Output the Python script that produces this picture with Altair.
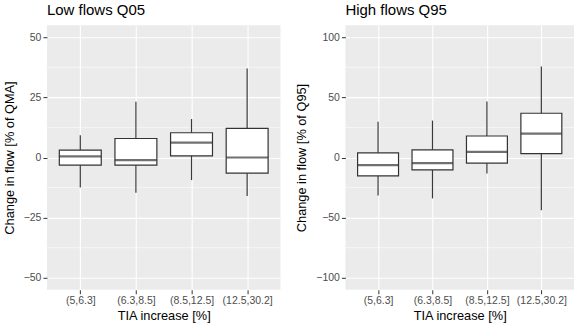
import altair as alt
import pandas as pd

categories = ["(5,6.3]", "(6.3,8.5]", "(8.5,12.5]", "(12.5,30.2]"]

low_lower = [-12.5, -14.7, -9.4, -16.0]
low_q1 = [-3.2, -3.2, 0.7, -6.5]
low_median = [0.5, -1.1, 6.2, 0.0]
low_q3 = [3.1, 7.9, 10.3, 12.1]
low_upper = [9.3, 23.2, 16.0, 37.0]

high_lower = [-31.5, -34.0, -13.4, -43.8]
high_q1 = [-15.3, -10.3, -4.7, 3.3]
high_median = [-6.4, -4.7, 4.7, 19.8]
high_q3 = [3.9, 6.4, 17.9, 36.8]
high_upper = [29.8, 30.7, 46.6, 75.6]

low_major = [-50, -25, 0, 25, 50]
low_minor = [-37.5, -12.5, 12.5, 37.5]
high_major = [-100, -50, 0, 50, 100]
high_minor = [-75, -25, 25, 75]

FONT = "Liberation Sans"


def panel(title, ytitle, lower, q1, med, q3, upper, major, minor, domain, w, boxw):
    df = pd.DataFrame({"cat": categories, "lower": lower, "q1": q1,
                       "median": med, "q3": q3, "upper": upper})
    xenc = alt.X("cat:N", sort=categories, title="TIA increase [%]",
                 scale=alt.Scale(type="point", padding=0.6),
                 axis=alt.Axis(labelAngle=0, grid=True, gridColor="white",
                               gridWidth=1.1, titlePadding=3))
    yscale = alt.Scale(domain=domain, nice=False, zero=False)
    yaxis = alt.Axis(values=major, grid=True, gridColor="white", gridWidth=1.1,
                     titlePadding=7)
    base = alt.Chart(df)
    minor_df = pd.DataFrame({"v": minor})
    minor_rules = alt.Chart(minor_df).mark_rule(color="white", strokeWidth=0.55).encode(
        y=alt.Y("v:Q", scale=yscale, title=ytitle, axis=yaxis))
    whisk = base.mark_rule(color="#3a3a3a", strokeWidth=1.2).encode(
        x=xenc,
        y=alt.Y("lower:Q", scale=yscale, title=ytitle, axis=yaxis),
        y2="upper:Q")
    box = base.mark_bar(size=boxw, fill="white", stroke="#333333",
                        strokeWidth=1.2).encode(x=xenc, y="q1:Q", y2="q3:Q")
    medt = base.mark_tick(size=boxw, thickness=2.2, color="#333333").encode(
        x=xenc, y="median:Q")
    return alt.layer(minor_rules, whisk, box, medt).properties(
        width=w, height=265,
        title=alt.TitleParams(title, anchor="start", frame="group", fontSize=15,
                              font=FONT, fontWeight="normal", color="black",
                              offset=7))


left = panel("Low flows Q05", "Change in flow [% of QMA]",
             low_lower, low_q1, low_median, low_q3, low_upper,
             low_major, low_minor, [-55, 55], 234, 42)
right = panel("High flows Q95", "Change in flow [% of Q95]",
              high_lower, high_q1, high_median, high_q3, high_upper,
              high_major, high_minor, [-110, 110], 229, 41)

chart = alt.hconcat(left, right, spacing=14).properties(
    padding={"left": 3, "top": 3, "right": 5, "bottom": 2},
    background="white"
).configure_view(fill="#EBEBEB", stroke=None).configure_axis(
    domain=False, tickColor="#333333", tickSize=4, tickWidth=1,
    labelColor="#4D4D4D", labelFontSize=10.5, labelFont=FONT,
    titleFont=FONT, titleFontSize=12.8, titleFontWeight="normal",
    titleColor="black", labelPadding=2
)

chart.save("out.html", embed_options={"renderer": "svg", "actions": False})
